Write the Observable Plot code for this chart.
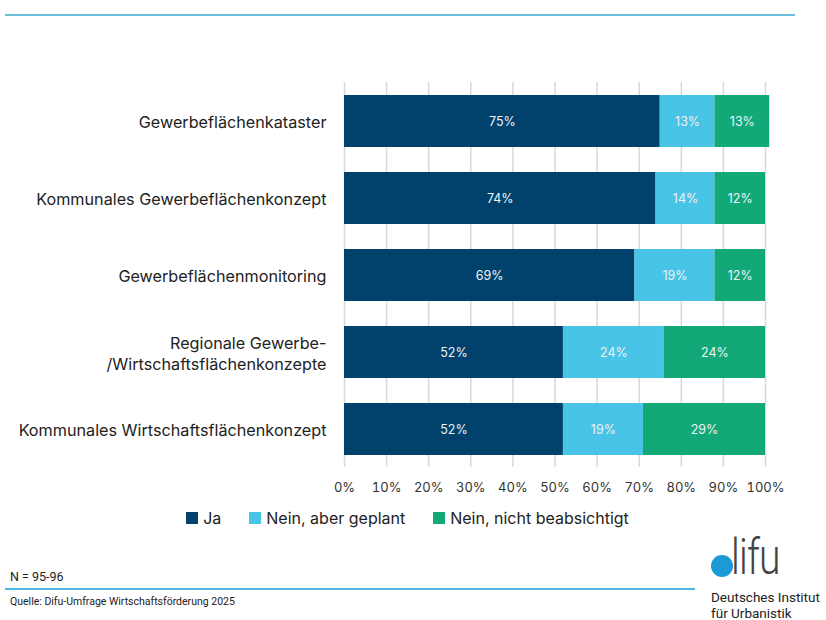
<!DOCTYPE html>
<html>
<head>
<meta charset="utf-8">
<script src="https://cdn.jsdelivr.net/npm/d3@7"></script>
<script src="https://cdn.jsdelivr.net/npm/@observablehq/plot@0.6"></script>
<style>
  html, body { margin: 0; padding: 0; background: #fff; }
  body { width: 826px; height: 620px; position: relative; overflow: hidden; font-family: Inter, "Noto Sans", sans-serif; }
  .abs { position: absolute; }
  #topline { left: 5px; top: 14px; width: 790px; height: 2px; background: #6cbcdc; }
  #chart { left: 0; top: 0; }
  #legend { top: 508px; left: 0; width: 815px; display: flex; justify-content: center; gap: 28px; font-size: 16px; color: #222; }
  #legend .item { display: flex; align-items: center; }
  #legend .sw { width: 12px; height: 12px; margin-right: 5px; display: inline-block; }
  #n { left: 10px; top: 569px; font-size: 12.5px; color: #222; font-family: "Liberation Sans Narrow", Roboto, sans-serif; }
  #botline { left: 5px; top: 588px; width: 690px; height: 1.5px; background: #4cb8e2; }
  #src { left: 10px; top: 595px; font-size: 10.5px; color: #222; font-family: "Liberation Sans Narrow", Roboto, sans-serif; }
  #dot { left: 711px; top: 555px; width: 22px; height: 22px; border-radius: 50%; background: #1c9ad6; }
  #ifu { left: 731px; top: 532px; font-size: 50px; font-weight: 300; color: #444; font-family: Roboto, sans-serif; letter-spacing: -1px; line-height: 50px; transform: scaleX(0.78); transform-origin: left top; }
  #inst { left: 711px; top: 589px; font-size: 13.5px; color: #222; line-height: 16px; font-family: Roboto, sans-serif; }
</style>
</head>
<body>
<div id="topline" class="abs"></div>
<div id="chart" class="abs"></div>
<div id="legend" class="abs"></div>
<div id="n" class="abs">N = 95-96</div>
<div id="botline" class="abs"></div>
<div id="src" class="abs">Quelle: Difu-Umfrage Wirtschaftsförderung 2025</div>
<div id="dot" class="abs"></div>
<div id="ifu" class="abs">lifu</div>
<div id="inst" class="abs">Deutsches Institut<br>für Urbanistik</div>
<script>
const categories = [
  "Gewerbeflächenkataster",
  "Kommunales Gewerbeflächenkonzept",
  "Gewerbeflächenmonitoring",
  "Regionale Gewerbe-/Wirtschaftsflächenkonzepte",
  "Kommunales Wirtschaftsflächenkonzept"
];
const categoryLabels = [
  "Gewerbeflächenkataster",
  "Kommunales Gewerbeflächenkonzept",
  "Gewerbeflächenmonitoring",
  "Regionale Gewerbe-\n/Wirtschaftsflächenkonzepte",
  "Kommunales Wirtschaftsflächenkonzept"
];
const series = ["Ja", "Nein, aber geplant", "Nein, nicht beabsichtigt"];
const colors = ["#00426b", "#48c4e6", "#12a878"];
const ja = [75, 74, 69, 52, 52];
const geplant = [13, 14, 19, 24, 19];
const nicht = [13, 12, 12, 24, 29];
const xTicks = [0, 10, 20, 30, 40, 50, 60, 70, 80, 90, 100];

const values = [ja, geplant, nicht];
const data = [];
categories.forEach((c, i) => {
  series.forEach((s, j) => data.push({category: c, series: s, value: values[j][i]}));
});
const labelOf = new Map(categories.map((c, i) => [c, categoryLabels[i]]));

const chart = Plot.plot({
  width: 826,
  height: 500,
  marginTop: 82,
  marginBottom: 33,
  marginLeft: 344,
  marginRight: 61,
  style: {fontFamily: "Inter, 'Noto Sans', sans-serif", background: "transparent", overflow: "visible"},
  x: {domain: [0, 100], ticks: xTicks, tickFormat: d => d + "%", label: null},
  y: {domain: categories, paddingInner: 0.327, paddingOuter: 0.155, label: null},
  color: {domain: series, range: colors},
  marks: [
    Plot.gridX(xTicks, {stroke: "#d9d9d9", strokeOpacity: 1, strokeWidth: 1.5}),
    Plot.axisX({ticks: xTicks, tickFormat: d => d + "%", tickSize: 0, tickPadding: 15, fontSize: 13, fill: "#333", label: null}),
    Plot.axisY({tickSize: 0, tickPadding: 18, fontSize: 16.2, fill: "#222", tickFormat: d => labelOf.get(d), lineHeight: 1.3, label: null}),
    Plot.barX(data, {x: "value", y: "category", fill: "series", order: series}),
    Plot.text(data, Plot.stackX({x: "value", y: "category", z: "series", order: series, text: d => d.value + "%", fill: "#eef2f5", fontSize: 12.5}))
  ]
});
document.getElementById("chart").appendChild(chart);

const legend = document.getElementById("legend");
series.forEach((s, i) => {
  const item = document.createElement("div");
  item.className = "item";
  const sw = document.createElement("span");
  sw.className = "sw";
  sw.style.background = colors[i];
  item.appendChild(sw);
  item.appendChild(document.createTextNode(s));
  legend.appendChild(item);
});
</script>
</body>
</html>
